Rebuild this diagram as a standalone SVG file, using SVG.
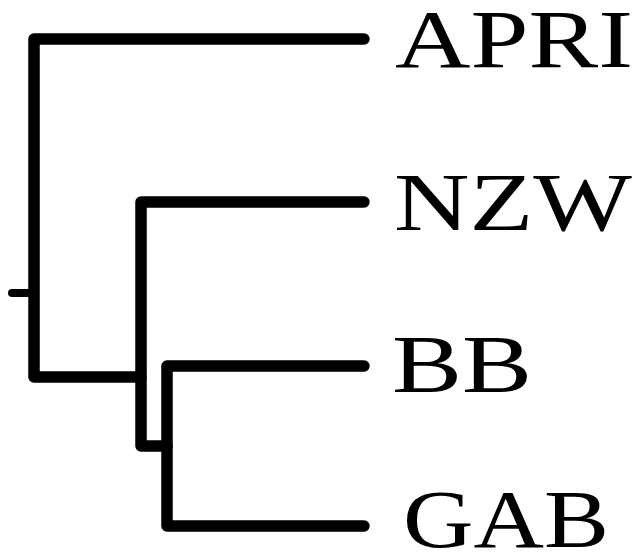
<svg xmlns="http://www.w3.org/2000/svg" width="634" height="556" viewBox="0 0 634 556">
<style>
.br{fill:none;stroke:#000;stroke-width:11.5;stroke-linecap:round;stroke-linejoin:round}
.lbl{font-family:"Liberation Serif","Times New Roman",serif;font-size:82px;fill:#000}
</style>
<rect width="634" height="556" fill="#fff"/>
<g id="connectors">
<path class="br" d="M12,293 H34" style="stroke-width:8"/>
<path class="br" d="M364,39 H34 V377 H141"/>
<path class="br" d="M364,202 H141 V446 H167"/>
<path class="br" d="M364,366 H167 V526 H364"/>
</g>
<g id="APRI"><text class="lbl" x="395" y="67" textLength="238" lengthAdjust="spacingAndGlyphs">APRI</text></g>
<g id="NZW"><text class="lbl" x="394" y="230" textLength="238" lengthAdjust="spacingAndGlyphs">NZW</text></g>
<g id="BB"><text class="lbl" x="392" y="392" textLength="140" lengthAdjust="spacingAndGlyphs">BB</text></g>
<g id="GAB"><text class="lbl" x="403" y="547" textLength="206" lengthAdjust="spacingAndGlyphs">GAB</text></g>
</svg>
